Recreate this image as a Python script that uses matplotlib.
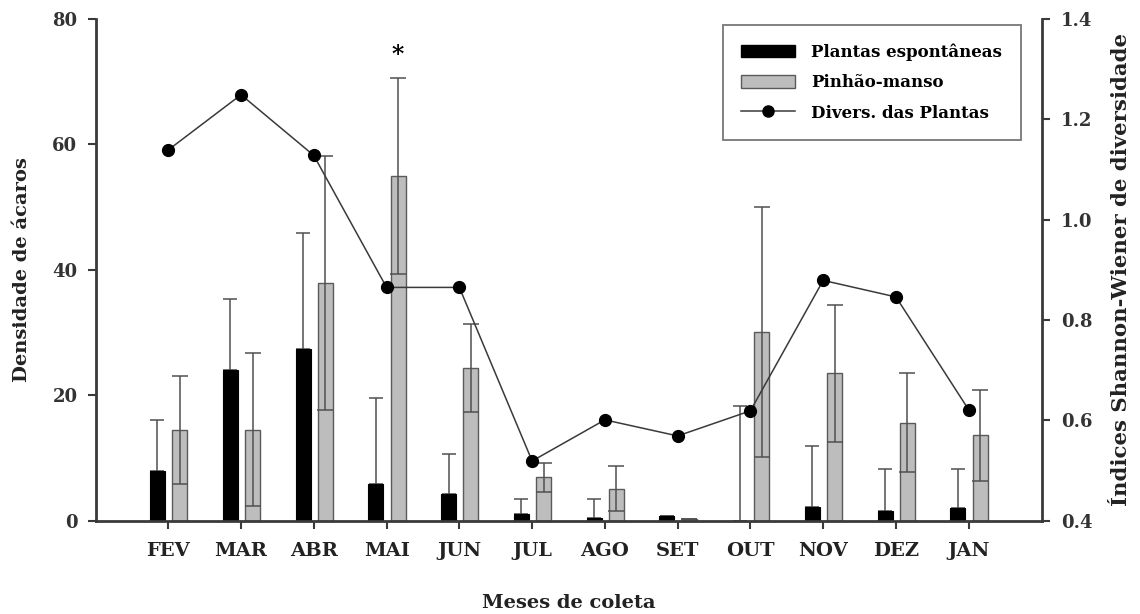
import matplotlib
matplotlib.use("Agg")
import matplotlib.pyplot as plt
import numpy as np
from matplotlib.patches import Patch
from matplotlib.lines import Line2D

months = ['FEV', 'MAR', 'ABR', 'MAI', 'JUN', 'JUL', 'AGO', 'SET', 'OUT', 'NOV', 'DEZ', 'JAN']
espontaneas = [7.9, 24.1, 27.3, 5.9, 4.2, 1.0, 0.4, 0.8, 0.0, 2.2, 1.5, 2.0]
espontaneas_err = [8.1, 11.2, 18.5, 13.7, 6.5, 2.5, 3.1, 0.0, 18.3, 9.7, 6.7, 6.2]
pinhao = [14.4, 14.5, 37.9, 55.0, 24.3, 6.9, 5.1, 0.3, 30.1, 23.5, 15.6, 13.6]
pinhao_err = [8.6, 12.2, 20.3, 15.6, 7.0, 2.3, 3.6, 0.0, 20.0, 10.9, 7.9, 7.3]
diversidade = [1.139, 1.249, 1.128, 0.865, 0.865, 0.519, 0.601, 0.569, 0.619, 0.879, 0.846, 0.621]
left_ticks = [0, 20, 40, 60, 80]
right_ticks = [0.4, 0.6, 0.8, 1.0, 1.2, 1.4]

plt.rcParams['font.family'] = ['DejaVu Serif']
plt.rcParams['font.weight'] = 'bold'

W, H = 1140, 614
fig = plt.figure(figsize=(W / 100, H / 100), dpi=100)
L, R, T, B = 95.5, 1041.5, 19, 520.7
ax = fig.add_axes([L / W, 1 - B / H, (R - L) / W, (B - T) / H])
ax2 = ax.twinx()

x = np.arange(len(months))
off_b, off_g, width = -0.148, 0.158, 0.206
spine_c = '#3a3a3a'
err_c = '#505050'

ax.bar(x + off_b, espontaneas, width, color='black', edgecolor='black', linewidth=0.8, zorder=2)
ax.bar(x + off_g, pinhao, width, color='#bdbdbd', edgecolor='#5a5a5a', linewidth=1.0, zorder=2)
black_yerr = [np.zeros(len(espontaneas_err)), espontaneas_err]
ax.errorbar(x + off_b, espontaneas, yerr=black_yerr, fmt='none', ecolor=err_c,
            elinewidth=1.1, capsize=5.3, capthick=1.1, zorder=1.5)
ax.errorbar(x + off_g, pinhao, yerr=pinhao_err, fmt='none', ecolor=err_c,
            elinewidth=1.1, capsize=5.5, capthick=1.1, zorder=3)

ax.text(3 + off_g, 74.3, '*', ha='center', va='center', fontsize=17, fontweight='bold')

ax2.plot(x, diversidade, color='#3a3a3a', linewidth=1.1, marker='o', markersize=8.5,
         markerfacecolor='black', markeredgecolor='black', zorder=5)

ax.set_xlim(-1, 12)
ax.set_ylim(0, 80)
ax2.set_ylim(0.4, 1.4)

ax.set_xticks(x)
ax.set_xticklabels(months, fontsize=14, fontweight='bold', color='#222222')
ax.set_yticks(left_ticks)
ax.set_yticklabels([str(v) for v in left_ticks], fontsize=13, fontweight='bold', color='#333333')
ax2.set_yticks(right_ticks)
ax2.set_yticklabels([f'{v:.1f}' for v in right_ticks], fontsize=13, fontweight='bold', color='#333333')

for a in (ax, ax2):
    a.spines['top'].set_visible(False)
    for s in a.spines.values():
        s.set_color(spine_c)
        s.set_linewidth(2.0)
ax.spines['right'].set_visible(False)
ax2.spines['left'].set_visible(False)
ax2.spines['bottom'].set_visible(False)

ax.tick_params(axis='x', direction='out', length=5.5, width=1.5, color=spine_c, pad=10)
ax.tick_params(axis='y', direction='out', length=6, width=1.5, color=spine_c, pad=7)
ax2.tick_params(axis='y', direction='out', length=6, width=1.5, color=spine_c, pad=8)

ax.set_xlabel('Meses de coleta', fontsize=14, fontweight='bold', color='#222222')
ax.xaxis.set_label_coords(0.5, -(603 - B) / (B - T))
ax.xaxis.label.set_va('center')
ax.set_ylabel('Densidade de ácaros', fontsize=14, fontweight='bold', color='#222222')
ax.yaxis.set_label_coords((21.7 - L) / (R - L), 0.5)
ax.yaxis.label.set_va('center')
ax2.set_ylabel('Índices Shannon-Wiener de diversidade', fontsize=15.3, fontweight='bold', color='#222222')
ax2.yaxis.set_label_coords((1121 - L) / (R - L), 0.5)
ax2.yaxis.label.set_va('center')

handles = [Patch(facecolor='black', edgecolor='black'),
           Patch(facecolor='#bdbdbd', edgecolor='#5a5a5a'),
           Line2D([0], [0], color='#3a3a3a', linewidth=1.1, marker='o', markersize=8,
                  markerfacecolor='black', markeredgecolor='black')]
labels = ['Plantas espontâneas', 'Pinhão-manso', 'Divers. das Plantas']
leg = ax2.legend(handles, labels, loc='upper left', bbox_to_anchor=(723 / W, 1 - 25 / H),
                 bbox_transform=fig.transFigure, borderaxespad=0, frameon=True, fancybox=False,
                 edgecolor='#555555', handlelength=3.2, handleheight=0.8,
                 handletextpad=1.0, labelspacing=0.8, borderpad=1.1,
                 prop={'weight': 'bold', 'size': 12})
leg.get_frame().set_linewidth(1.3)

fig.savefig('out.png', dpi=100)
